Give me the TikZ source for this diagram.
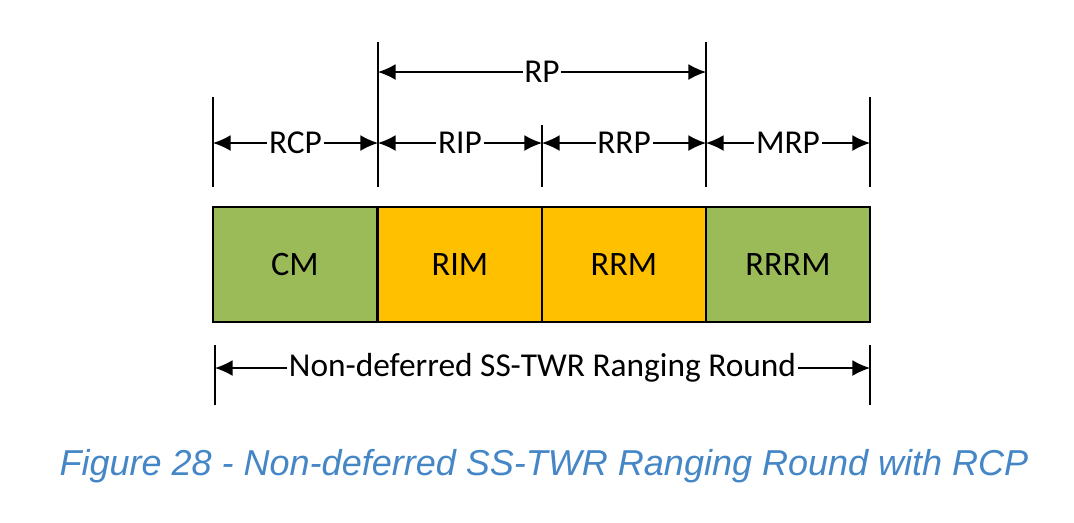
\documentclass[tikz,border=0pt]{standalone}
\usepackage{fontspec}
\setmainfont{Carlito}
\newfontfamily\captionfont{Liberation Sans}
\usetikzlibrary{arrows.meta, positioning}

\begin{document}
\begin{tikzpicture}[x=0.02cm, y=-0.02cm, every node/.style={font=\fontsize{19}{22}\selectfont}]
    % Define consistent colors
    \definecolor{cmgreen}{RGB}{155,187,89}
    \definecolor{rimorange}{RGB}{255,192,0}
    \definecolor{capblue}{RGB}{68,134,198}
    \tikzset{
        slot/.style={draw, thick, anchor=north west, minimum width=3.28cm, minimum height=2.3cm, inner sep=0pt, outer sep=0pt, font=\fontsize{19.5}{22}\selectfont},
        span/.style={{Latex[length=10pt,width=9pt]}-{Latex[length=10pt,width=9pt]}, thick},
        spanlabel/.style={fill=white, inner sep=1pt},
        tick/.style={thick}
    }
    \useasboundingbox (0,0) rectangle (1074,522);

    % Slots
    \node[slot, fill=cmgreen] (cm) at (213,207) {CM};
    \node[slot, fill=rimorange] (rim) at (378,207) {RIM};
    \node[slot, fill=rimorange] (rrm) at (542,207) {RRM};
    \node[slot, fill=cmgreen] (rrrm) at (706,207) {RRRM};

    % Tick marks
    \coordinate (t0) at (213,187); \coordinate (t0u) at (213,97);
    \coordinate (t1) at (378,187); \coordinate (t1u) at (378,42);
    \coordinate (t2) at (542,187); \coordinate (t2u) at (542,125);
    \coordinate (t3) at (706,187); \coordinate (t3u) at (706,42);
    \coordinate (t4) at (870,187); \coordinate (t4u) at (870,97);
    \foreach \i in {0,...,4}
        \draw[tick] (t\i) -- (t\i u);

    % Periods
    \coordinate (a0) at (213,143); \coordinate (a1) at (378,143);
    \coordinate (a2) at (542,143); \coordinate (a3) at (706,143);
    \coordinate (a4) at (870,143);
    \draw[span] (a0) -- node[spanlabel] {RCP} (a1);
    \draw[span] (a1) -- node[spanlabel] {RIP} (a2);
    \draw[span] (a2) -- node[spanlabel] {RRP} (a3);
    \draw[span] (a3) -- node[spanlabel] {MRP} (a4);
    \coordinate (rp0) at (378,72); \coordinate (rp1) at (706,72);
    \draw[span] (rp0) -- node[spanlabel] {RP} (rp1);

    % Ranging round
    \coordinate (b0) at (215,345); \coordinate (b0d) at (215,405);
    \coordinate (b1) at (870,345); \coordinate (b1d) at (870,405);
    \draw[tick] (b0) -- (b0d);
    \draw[tick] (b1) -- (b1d);
    \coordinate (r0) at (215,368); \coordinate (r1) at (870,368);
    \draw[span] (r0) -- node[spanlabel] {Non-deferred SS-TWR Ranging Round} (r1);

    % Caption
    \node[font=\captionfont\itshape\fontsize{20.5}{24}\selectfont, text=capblue] (caption) at (544,466)
        {Figure 28 - Non-deferred SS-TWR Ranging Round with RCP};
\end{tikzpicture}
\end{document}
